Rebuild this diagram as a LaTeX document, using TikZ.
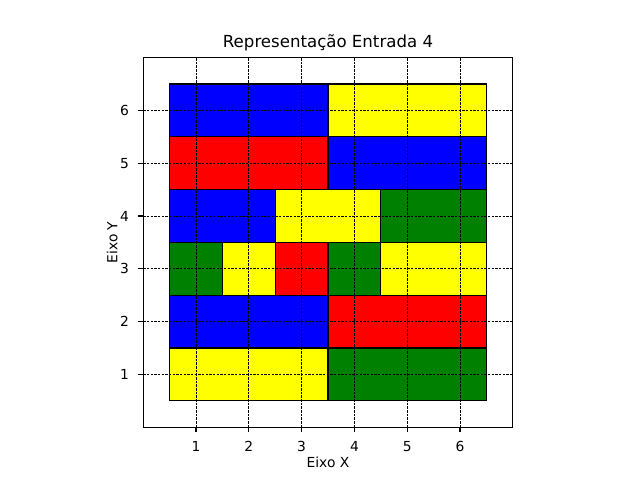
\documentclass[tikz,border=0pt]{standalone}
\usepackage{fontspec}
\setmainfont{DejaVu Sans}
\usepackage{tikz}
\usepackage{xcolor}
\definecolor{mblue}{RGB}{0,0,255}
\definecolor{mred}{RGB}{255,0,0}
\definecolor{mgreen}{RGB}{0,128,0}
\definecolor{myellow}{RGB}{255,255,0}

\begin{document}
\begin{tikzpicture}[x=0.528in,y=0.528in,font=\fontsize{10}{12}\selectfont,
  cell/.style={draw=black,line width=1pt},
  gridline/.style={black,line width=0.5pt,dash pattern=on 1.85pt off 0.8pt},
  tick/.style={black,line width=0.8pt}]
\useasboundingbox (-2.7121,-1) rectangle (9.4091,8.0909);
% cells
\filldraw[cell,fill=myellow] (0.5,0.5) rectangle (3.5,1.5);
\filldraw[cell,fill=mgreen] (3.5,0.5) rectangle (6.5,1.5);
\filldraw[cell,fill=mblue] (0.5,1.5) rectangle (3.5,2.5);
\filldraw[cell,fill=mred] (3.5,1.5) rectangle (6.5,2.5);
\filldraw[cell,fill=mgreen] (0.5,2.5) rectangle (1.5,3.5);
\filldraw[cell,fill=myellow] (1.5,2.5) rectangle (2.5,3.5);
\filldraw[cell,fill=mred] (2.5,2.5) rectangle (3.5,3.5);
\filldraw[cell,fill=mgreen] (3.5,2.5) rectangle (4.5,3.5);
\filldraw[cell,fill=myellow] (4.5,2.5) rectangle (6.5,3.5);
\filldraw[cell,fill=mblue] (0.5,3.5) rectangle (2.5,4.5);
\filldraw[cell,fill=myellow] (2.5,3.5) rectangle (4.5,4.5);
\filldraw[cell,fill=mgreen] (4.5,3.5) rectangle (6.5,4.5);
\filldraw[cell,fill=mred] (0.5,4.5) rectangle (3.5,5.5);
\filldraw[cell,fill=mblue] (3.5,4.5) rectangle (6.5,5.5);
\filldraw[cell,fill=mblue] (0.5,5.5) rectangle (3.5,6.5);
\filldraw[cell,fill=myellow] (3.5,5.5) rectangle (6.5,6.5);
% grid
\draw[gridline] (1,0) -- (1,7);
\draw[gridline] (2,0) -- (2,7);
\draw[gridline] (3,0) -- (3,7);
\draw[gridline] (4,0) -- (4,7);
\draw[gridline] (5,0) -- (5,7);
\draw[gridline] (6,0) -- (6,7);
\draw[gridline] (0,1) -- (7,1);
\draw[gridline] (0,2) -- (7,2);
\draw[gridline] (0,3) -- (7,3);
\draw[gridline] (0,4) -- (7,4);
\draw[gridline] (0,5) -- (7,5);
\draw[gridline] (0,6) -- (7,6);
% frame
\draw[line width=0.8pt,line join=miter] (0,0) rectangle (7,7);
% ticks
\draw[tick] (1,0) -- ++(0,-3.5pt) node[below=3pt]{1};
\draw[tick] (2,0) -- ++(0,-3.5pt) node[below=3pt]{2};
\draw[tick] (3,0) -- ++(0,-3.5pt) node[below=3pt]{3};
\draw[tick] (4,0) -- ++(0,-3.5pt) node[below=3pt]{4};
\draw[tick] (5,0) -- ++(0,-3.5pt) node[below=3pt]{5};
\draw[tick] (6,0) -- ++(0,-3.5pt) node[below=3pt]{6};
\draw[tick] (0,1) -- ++(-3.5pt,0) node[left=3pt]{1};
\draw[tick] (0,2) -- ++(-3.5pt,0) node[left=3pt]{2};
\draw[tick] (0,3) -- ++(-3.5pt,0) node[left=3pt]{3};
\draw[tick] (0,4) -- ++(-3.5pt,0) node[left=3pt]{4};
\draw[tick] (0,5) -- ++(-3.5pt,0) node[left=3pt]{5};
\draw[tick] (0,6) -- ++(-3.5pt,0) node[left=3pt]{6};
% labels
\node (xlab) at (3.5,-0.663) {Eixo X};
\node[rotate=90] (ylab) at (-0.587,3.5) {Eixo Y};
\node[font=\fontsize{12}{14}\selectfont] (title) at (3.5,7.28) {Representação Entrada 4};
\end{tikzpicture}
\end{document}
